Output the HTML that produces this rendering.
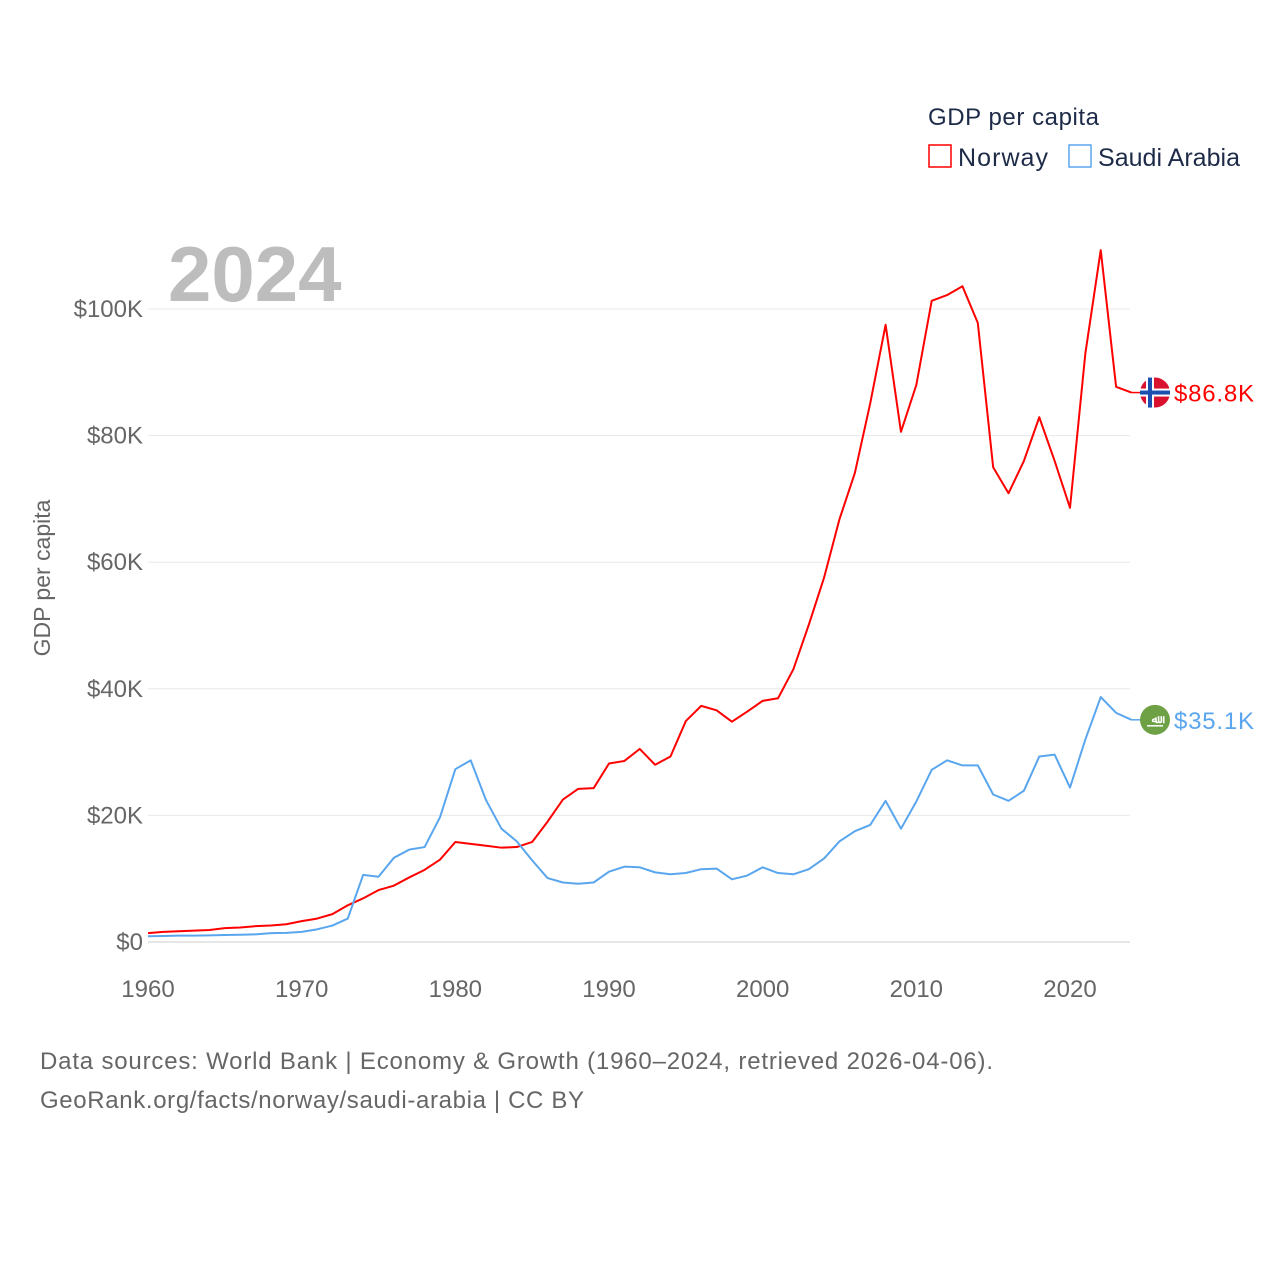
<!DOCTYPE html>
<html><head><meta charset="utf-8"><style>
body{margin:0;background:#fff;font-family:"Liberation Sans",sans-serif}
svg text{font-family:"Liberation Sans",sans-serif}
</style></head><body>
<svg id="chart" width="1280" height="1280" viewBox="0 0 1280 1280" xmlns="http://www.w3.org/2000/svg">
<text x="168" y="301" font-size="78" font-weight="bold" fill="#bdbdbd">2024</text>
<text x="928" y="125" font-size="24" fill="#1d2b48" textLength="171">GDP per capita</text>
<g><rect x="929" y="145" width="22" height="22" fill="none" stroke="#f00" stroke-width="1.5"/><text x="958" y="166" font-size="25" fill="#1d2b48" textLength="90">Norway</text></g>
<g><rect x="1069" y="145" width="22" height="22" fill="none" stroke="#5aa6ee" stroke-width="1.5"/><text x="1098" y="166" font-size="25" fill="#1d2b48" textLength="142">Saudi Arabia</text></g>
<text transform="translate(50,578) rotate(-90)" text-anchor="middle" font-size="23" fill="#666">GDP per capita</text>
<g id="grid"></g><g id="series"></g>
<text x="40" y="1069" font-size="24" fill="#666" textLength="953">Data sources: World Bank | Economy &amp; Growth (1960–2024, retrieved 2026-04-06).</text>
<text x="40" y="1108" font-size="24" fill="#666" textLength="544">GeoRank.org/facts/norway/saudi-arabia | CC BY</text>
</svg>
<script>
const years=[];for(let y=1960;y<=2024;y++)years.push(y);
const norway=[1.4,1.6,1.7,1.8,1.9,2.2,2.3,2.5,2.6,2.8,3.3,3.7,4.4,5.8,6.9,8.2,8.9,10.2,11.4,13.0,15.8,15.5,15.2,14.9,15.0,15.8,19.0,22.5,24.2,24.3,28.2,28.6,30.5,28.0,29.3,34.9,37.3,36.6,34.8,36.4,38.1,38.5,43.1,50.1,57.6,66.8,74.1,85.1,97.5,80.6,88.0,101.3,102.2,103.6,97.8,75.0,70.9,76.0,82.9,76.0,68.6,93.0,109.3,87.7,86.8];
const saudi=[0.9,0.95,1.0,1.0,1.05,1.1,1.15,1.2,1.4,1.45,1.6,2.0,2.6,3.7,10.6,10.3,13.3,14.6,15.0,19.7,27.3,28.7,22.4,17.9,15.9,12.9,10.1,9.4,9.2,9.4,11.1,11.9,11.8,11.0,10.7,10.9,11.5,11.6,9.9,10.5,11.8,10.9,10.7,11.5,13.2,15.9,17.5,18.5,22.3,17.9,22.2,27.2,28.7,27.9,27.9,23.3,22.3,23.9,29.3,29.6,24.4,32.0,38.7,36.2,35.1];
const yTicks=[0,20,40,60,80,100];
const xTicks=[1960,1970,1980,1990,2000,2010,2020];
const X=y=>148+(y-1960)*922/60, Y=v=>942-v*6.33;
const NS="http://www.w3.org/2000/svg";
function mk(t,a,p){const e=document.createElementNS(NS,t);for(const k in a)e.setAttribute(k,a[k]);p.appendChild(e);return e;}
const g=document.getElementById('grid'),s=document.getElementById('series');
yTicks.forEach(v=>{const l=mk('line',{x1:148,x2:1130,y1:Y(v),y2:Y(v),stroke:v?'#e8e8e8':'#ccc','stroke-width':1},g);


const t=mk('text',{x:143,y:Y(v)+8,'text-anchor':'end','font-size':24,fill:'#666'},g);t.textContent='$'+(v?v+'K':'0');

});
xTicks.forEach(v=>{const t=mk('text',{x:X(v),y:997,'text-anchor':'middle','font-size':24,fill:'#666'},g);t.textContent=v;

});
function line(d,c,n){const p=mk('polyline',{points:d.map((v,i)=>X(years[i])+','+Y(v)).join(' '),fill:'none',stroke:c,'stroke-width':2,'stroke-linejoin':'round'},s);


const last=d[d.length-1],lx=X(years[years.length-1]);
mk('line',{x1:lx,x2:1142,y1:Y(last),y2:Y(last),stroke:c,'stroke-width':1.5},s);
const t=mk('text',{x:1174,y:Y(last)+9,'font-size':24,fill:c,textLength:80},s);t.textContent='$'+last.toFixed(1)+'K';

return Y(last);}
const ny=line(norway,'#ff0000','norway-line');
const sy=line(saudi,'#5aa6ee','saudi-arabia-line');
const f1=mk('g',{},s);


mk('circle',{cx:1155,cy:ny,r:15,fill:'#d8112f'},f1);
mk('rect',{x:1140,y:ny-4,width:30,height:8,fill:'#fff'},f1);mk('rect',{x:1146,y:ny-15,width:8,height:30,fill:'#fff'},f1);
mk('rect',{x:1140,y:ny-2,width:30,height:4,fill:'#1b4fb0'},f1);mk('rect',{x:1148,y:ny-15,width:4,height:30,fill:'#1b4fb0'},f1);
const f2=mk('g',{},s);


mk('circle',{cx:1155,cy:sy,r:15,fill:'#6ea146'},f2);
const ft=mk('text',{x:1155,y:sy+3,'text-anchor':'middle','font-size':11,fill:'#fff','font-weight':'bold'},f2);ft.textContent='ﷲ';
mk('line',{x1:1147,x2:1163,y1:sy+6,y2:sy+6,stroke:'#fff','stroke-width':1.5},f2);
</script>
</body></html>
